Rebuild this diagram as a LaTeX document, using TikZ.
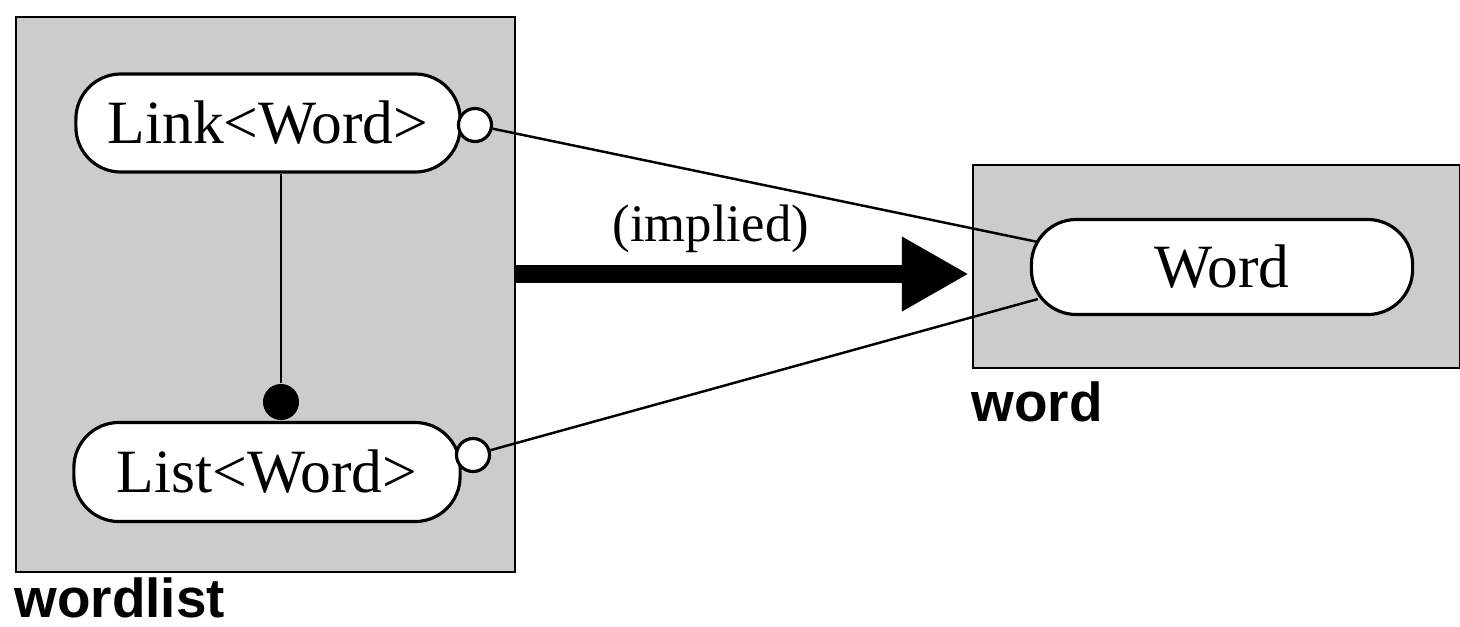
\documentclass[tikz,border=0pt]{standalone}
\usepackage{fontspec}
\setmainfont{Liberation Serif}
\newfontfamily\pkgfont{Liberation Sans}
\usepackage{tikz}
\usetikzlibrary{arrows.meta, positioning, backgrounds}

\begin{document}
\begin{tikzpicture}[
        x=0.01cm, y=-0.01cm,
        pkg/.style={draw, line width=0.6pt, fill=black!20, inner sep=0pt},
        pill/.style={draw, line width=0.9pt, fill=white, rounded corners=0.45cm, align=center, font=\fontsize{17.5}{20}\selectfont},
        pkglabel/.style={font=\pkgfont\bfseries\fontsize{15.6}{18}\selectfont, inner sep=0pt, anchor=north west},
        hollowend/.style={circle, draw, line width=0.9pt, fill=white, minimum size=0.33cm, inner sep=0pt},
        solidend/.style={circle, fill=black, minimum size=0.36cm, inner sep=0pt},
        link/.style={line width=0.7pt},
        implarrow/.style={line width=5.1pt, -{Triangle[length=0.67cm, width=0.70cm]}}
    ]
    \useasboundingbox (0,0) rectangle (1460,626);

    % --- Classes ---
    \node[pill, minimum width=3.84cm, minimum height=0.98cm] (linkword) at (268,123) {Link<Word>};
    \node[pill, minimum width=3.86cm, minimum height=0.99cm] (listword) at (267,472) {List<Word>};
    \node[pill, minimum width=3.81cm, minimum height=0.95cm] (word) at (1222,267) {Word};

    % --- Association ends ---
    \node[hollowend] (linkend) at (475,125) {};
    \node[hollowend] (listend) at (473,455) {};
    \node[solidend] (listdot) at (281,402) {};

    % --- Packages and links (behind the classes) ---
    \begin{scope}[on background layer]
    \node[pkg, minimum width=4.99cm, minimum height=5.55cm] (wordlistpkg) at (265.5,294.5) {};
    \node[pkg, minimum width=4.87cm, minimum height=2.03cm] (wordpkg) at (1216.5,266.5) {};
    \draw[link] (linkend) -- ([shift={(0.08cm,0.25cm)}]word.west);
    \draw[link] (listend) -- ([shift={(0.08cm,-0.32cm)}]word.west);
    \end{scope}

    \node[pkglabel, below right=0.04cm and -0.01cm of wordlistpkg.south west] (wordlistlabel) {wordlist};
    \node[pkglabel, below right=0.12cm and -0.01cm of wordpkg.south west] (wordlabel) {word};

    % --- Composition ---
    \draw[link] (linkword.south -| listdot) -- (listdot);

    % --- Implied dependency ---
    \coordinate (implied) at (0,274);
    \draw[implarrow] (wordlistpkg.east |- implied) -- ([xshift=-0.03cm]wordpkg.west |- implied)
        node[pos=0.43, above, inner sep=3.5pt, font=\fontsize{15}{18}\selectfont] (impliedlabel) {(implied)};
\end{tikzpicture}
\end{document}
